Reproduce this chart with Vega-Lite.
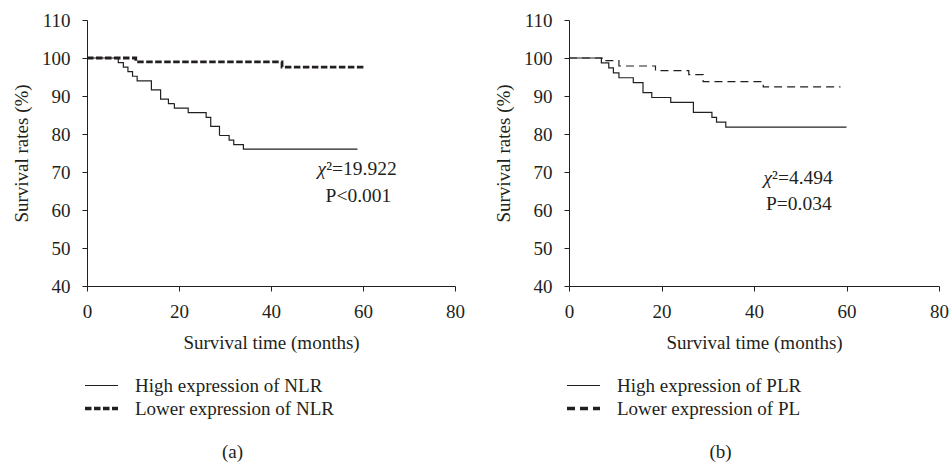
{
  "$schema": "https://vega.github.io/schema/vega-lite/v6.json",
  "background": "white",
  "padding": {"left": 12, "top": 11, "right": 5, "bottom": 5},
  "config": {
    "font": "Liberation Serif",
    "view": {"stroke": null},
    "axis": {
      "domainColor": "#231f20", "tickColor": "#231f20", "labelColor": "#231f20", "titleColor": "#231f20",
      "labelFont": "Liberation Serif", "titleFont": "Liberation Serif",
      "labelFontSize": 19, "titleFontSize": 19, "titleFontWeight": "normal",
      "grid": false, "tickSize": 5, "domainWidth": 1, "tickWidth": 1
    },
    "axisX": {"labelPadding": 11, "titlePadding": 12, "labelFlush": false},
    "axisY": {"labelPadding": 12, "titlePadding": 10},
    "legend": {
      "labelFont": "Liberation Serif", "labelFontSize": 19, "labelColor": "#231f20", "labelFontWeight": "normal",
      "symbolType": "stroke", "symbolSize": 1089, "symbolStrokeColor": "#231f20",
      "labelOffset": 24, "rowPadding": 3, "orient": "none", "legendX": 5, "legendY": 356,
      "direction": "vertical", "labelLimit": 400
    },
    "title": {"font": "Liberation Serif", "fontSize": 19, "fontWeight": "normal", "color": "#231f20"},
    "text": {"font": "Liberation Serif", "fontSize": 19.5, "color": "#231f20", "baseline": "alphabetic"}
  },
  "datasets": {
    "nlr": [
      {"time": 0, "surv": 100, "group": "High expression of NLR"},
      {"time": 6.8, "surv": 98.8, "group": "High expression of NLR"},
      {"time": 7.9, "surv": 97.6, "group": "High expression of NLR"},
      {"time": 8.9, "surv": 96.4, "group": "High expression of NLR"},
      {"time": 9.9, "surv": 95.2, "group": "High expression of NLR"},
      {"time": 10.9, "surv": 94.0, "group": "High expression of NLR"},
      {"time": 14.0, "surv": 91.6, "group": "High expression of NLR"},
      {"time": 16.0, "surv": 89.2, "group": "High expression of NLR"},
      {"time": 17.7, "surv": 88.0, "group": "High expression of NLR"},
      {"time": 19.0, "surv": 86.8, "group": "High expression of NLR"},
      {"time": 22.0, "surv": 85.6, "group": "High expression of NLR"},
      {"time": 25.9, "surv": 84.4, "group": "High expression of NLR"},
      {"time": 26.9, "surv": 82.0, "group": "High expression of NLR"},
      {"time": 28.8, "surv": 79.6, "group": "High expression of NLR"},
      {"time": 30.9, "surv": 78.4, "group": "High expression of NLR"},
      {"time": 31.9, "surv": 77.2, "group": "High expression of NLR"},
      {"time": 34.0, "surv": 76.0, "group": "High expression of NLR"},
      {"time": 58.8, "surv": 76.0, "group": "High expression of NLR"},
      {"time": 0, "surv": 100, "group": "Lower expression of NLR"},
      {"time": 10.6, "surv": 99.0, "group": "Lower expression of NLR"},
      {"time": 42.4, "surv": 97.6, "group": "Lower expression of NLR"},
      {"time": 60.1, "surv": 97.6, "group": "Lower expression of NLR"}
    ],
    "plr": [
      {"time": 0, "surv": 100, "group": "High expression of PLR"},
      {"time": 7.0, "surv": 98.7, "group": "High expression of PLR"},
      {"time": 8.6, "surv": 97.4, "group": "High expression of PLR"},
      {"time": 9.6, "surv": 96.1, "group": "High expression of PLR"},
      {"time": 10.8, "surv": 94.8, "group": "High expression of PLR"},
      {"time": 13.9, "surv": 93.5, "group": "High expression of PLR"},
      {"time": 16.0, "surv": 90.9, "group": "High expression of PLR"},
      {"time": 17.9, "surv": 89.6, "group": "High expression of PLR"},
      {"time": 22.0, "surv": 88.3, "group": "High expression of PLR"},
      {"time": 26.9, "surv": 85.7, "group": "High expression of PLR"},
      {"time": 30.9, "surv": 84.4, "group": "High expression of PLR"},
      {"time": 31.9, "surv": 83.1, "group": "High expression of PLR"},
      {"time": 33.9, "surv": 81.8, "group": "High expression of PLR"},
      {"time": 60.0, "surv": 81.8, "group": "High expression of PLR"},
      {"time": 0, "surv": 100, "group": "Lower expression of PL"},
      {"time": 7.2, "surv": 99.3, "group": "Lower expression of PL"},
      {"time": 10.8, "surv": 97.9, "group": "Lower expression of PL"},
      {"time": 18.7, "surv": 96.7, "group": "Lower expression of PL"},
      {"time": 25.9, "surv": 95.6, "group": "Lower expression of PL"},
      {"time": 29.0, "surv": 93.8, "group": "Lower expression of PL"},
      {"time": 42.0, "surv": 92.4, "group": "Lower expression of PL"},
      {"time": 58.7, "surv": 92.4, "group": "Lower expression of PL"}
    ],
    "notesA": [
      {"part": "chi", "label": "χ"},
      {"part": "stat", "label": "²=19.922"},
      {"part": "p", "label": "P<0.001"}
    ],
    "notesB": [
      {"part": "chi", "label": "χ"},
      {"part": "stat", "label": "²=4.494"},
      {"part": "p", "label": "P=0.034"}
    ]
  },
  "spacing": 29,
  "resolve": {"scale": {"strokeDash": "independent"}, "legend": {"strokeDash": "independent"}},
  "hconcat": [
    {
      "width": 368, "height": 266,
      "title": {"text": "(a)", "orient": "bottom", "frame": "bounds", "anchor": "middle", "offset": 24, "dx": -6},
      "layer": [
        {
          "data": {"name": "nlr"},
          "mark": {"type": "line", "interpolate": "step-after", "color": "#231f20"},
          "encoding": {
            "x": {"field": "time", "type": "quantitative", "scale": {"domain": [0, 80]}, "axis": {"values": [0, 20, 40, 60, 80], "title": "Survival time (months)"}},
            "y": {"field": "surv", "type": "quantitative", "scale": {"domain": [40, 110]}, "axis": {"values": [40, 50, 60, 70, 80, 90, 100, 110], "title": "Survival rates (%)"}},
            "strokeWidth": {"condition": {"test": "datum.group === 'Lower expression of NLR'", "value": 2.8}, "value": 1.2},
            "strokeDash": {
              "field": "group", "type": "nominal",
              "scale": {"domain": ["High expression of NLR", "Lower expression of NLR"], "range": [[1, 0], [6.5, 2.5]]},
              "legend": {"title": null, "encode": {"symbols": {"update": {"strokeWidth": {"signal": "datum.index === 1 ? 3.5 : 1.2"}, "strokeDash": {"signal": "datum.index === 1 ? [7.5, 3] : [1, 0]"}}}}}
            }
          }
        },
        {
          "data": {"name": "notesA"},
          "transform": [{"filter": "datum.part === 'chi'"}],
          "mark": {"type": "text", "fontStyle": "italic", "align": "right"},
          "encoding": {
            "x": {"datum": 52.0, "type": "quantitative", "scale": {"domain": [0, 80]}, "axis": {"values": [0, 20, 40, 60, 80], "title": "Survival time (months)"}},
            "y": {"datum": 69.1, "type": "quantitative", "scale": {"domain": [40, 110]}, "axis": {"values": [40, 50, 60, 70, 80, 90, 100, 110], "title": "Survival rates (%)"}},
            "text": {"field": "label"}
          }
        },
        {
          "data": {"name": "notesA"},
          "transform": [{"filter": "datum.part === 'stat'"}],
          "mark": {"type": "text", "align": "left"},
          "encoding": {
            "x": {"datum": 52.0, "type": "quantitative", "scale": {"domain": [0, 80]}, "axis": {"values": [0, 20, 40, 60, 80], "title": "Survival time (months)"}},
            "y": {"datum": 69.1, "type": "quantitative", "scale": {"domain": [40, 110]}, "axis": {"values": [40, 50, 60, 70, 80, 90, 100, 110], "title": "Survival rates (%)"}},
            "text": {"field": "label"}
          }
        },
        {
          "data": {"name": "notesA"},
          "transform": [{"filter": "datum.part === 'p'"}],
          "mark": {"type": "text", "align": "center"},
          "encoding": {
            "x": {"datum": 59.0, "type": "quantitative", "scale": {"domain": [0, 80]}, "axis": {"values": [0, 20, 40, 60, 80], "title": "Survival time (months)"}},
            "y": {"datum": 62.1, "type": "quantitative", "scale": {"domain": [40, 110]}, "axis": {"values": [40, 50, 60, 70, 80, 90, 100, 110], "title": "Survival rates (%)"}},
            "text": {"field": "label"}
          }
        }
      ]
    },
    {
      "width": 370, "height": 266,
      "title": {"text": "(b)", "orient": "bottom", "frame": "bounds", "anchor": "middle", "offset": 24, "dx": -1},
      "layer": [
        {
          "data": {"name": "plr"},
          "mark": {"type": "line", "interpolate": "step-after", "color": "#231f20", "strokeWidth": 1.2},
          "encoding": {
            "x": {"field": "time", "type": "quantitative", "scale": {"domain": [0, 80]}, "axis": {"values": [0, 20, 40, 60, 80], "title": "Survival time (months)"}},
            "y": {"field": "surv", "type": "quantitative", "scale": {"domain": [40, 110]}, "axis": {"values": [40, 50, 60, 70, 80, 90, 100, 110], "title": "Survival rates (%)"}},
            "strokeDash": {
              "field": "group", "type": "nominal",
              "scale": {"domain": ["High expression of PLR", "Lower expression of PL"], "range": [[1, 0], [8, 5]]},
              "legend": {"title": null, "encode": {"symbols": {"update": {"strokeWidth": {"signal": "datum.index === 1 ? 3.5 : 1.2"}, "strokeDash": {"signal": "datum.index === 1 ? [7.5, 3] : [1, 0]"}}}}}
            }
          }
        },
        {
          "data": {"name": "notesB"},
          "transform": [{"filter": "datum.part === 'chi'"}],
          "mark": {"type": "text", "fontStyle": "italic", "align": "right"},
          "encoding": {
            "x": {"datum": 43.9, "type": "quantitative", "scale": {"domain": [0, 80]}, "axis": {"values": [0, 20, 40, 60, 80], "title": "Survival time (months)"}},
            "y": {"datum": 66.9, "type": "quantitative", "scale": {"domain": [40, 110]}, "axis": {"values": [40, 50, 60, 70, 80, 90, 100, 110], "title": "Survival rates (%)"}},
            "text": {"field": "label"}
          }
        },
        {
          "data": {"name": "notesB"},
          "transform": [{"filter": "datum.part === 'stat'"}],
          "mark": {"type": "text", "align": "left"},
          "encoding": {
            "x": {"datum": 43.9, "type": "quantitative", "scale": {"domain": [0, 80]}, "axis": {"values": [0, 20, 40, 60, 80], "title": "Survival time (months)"}},
            "y": {"datum": 66.9, "type": "quantitative", "scale": {"domain": [40, 110]}, "axis": {"values": [40, 50, 60, 70, 80, 90, 100, 110], "title": "Survival rates (%)"}},
            "text": {"field": "label"}
          }
        },
        {
          "data": {"name": "notesB"},
          "transform": [{"filter": "datum.part === 'p'"}],
          "mark": {"type": "text", "align": "center"},
          "encoding": {
            "x": {"datum": 49.7, "type": "quantitative", "scale": {"domain": [0, 80]}, "axis": {"values": [0, 20, 40, 60, 80], "title": "Survival time (months)"}},
            "y": {"datum": 59.9, "type": "quantitative", "scale": {"domain": [40, 110]}, "axis": {"values": [40, 50, 60, 70, 80, 90, 100, 110], "title": "Survival rates (%)"}},
            "text": {"field": "label"}
          }
        }
      ]
    }
  ]
}
